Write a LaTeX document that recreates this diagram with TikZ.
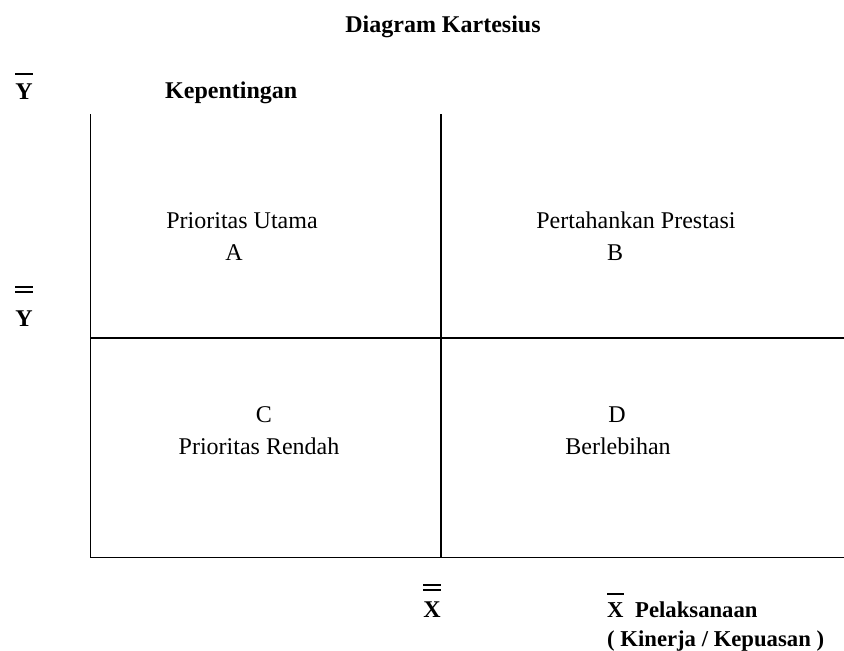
\documentclass[tikz,border=0pt]{standalone}
\usepackage{fontspec}
\setmainfont{Liberation Serif}
\begin{document}
\begin{tikzpicture}[x=1pt,y=-1pt,
  lbl/.style={inner sep=0pt,anchor=base,font=\fontsize{24}{28}\selectfont},
  blbl/.style={lbl,font=\fontsize{24}{28}\selectfont\bfseries},
  sblbl/.style={lbl,font=\fontsize{22.7}{27}\selectfont\bfseries},
  grid/.style={line width=1.3pt,black},
  bar/.style={line width=1.3pt,black}]
\useasboundingbox (0,0) rectangle (844,651);
% title
\node[blbl] (title) at (443,32) {Diagram Kartesius};
\node[blbl,anchor=base west] (kep) at (165,98) {Kepentingan};
% axis labels
\node[blbl] (ybar) at (24,99) {Y};
\draw[bar] ([yshift=9pt]ybar.north west) -- ([yshift=9pt]ybar.north east);
\node[blbl] (ydbar) at (24,326) {Y};
\draw[bar] ([yshift=23pt]ydbar.north west) -- ([yshift=23pt]ydbar.north east);
\draw[bar] ([yshift=18pt]ydbar.north west) -- ([yshift=18pt]ydbar.north east);
\node[blbl] (xdbar) at (432,617) {X};
\draw[bar] ([yshift=16pt]xdbar.north west) -- ([yshift=16pt]xdbar.north east);
\draw[bar] ([yshift=11pt]xdbar.north west) -- ([yshift=11pt]xdbar.north east);
\node[sblbl,anchor=base west] (xbar) at (607,617) {X};
\draw[bar] ([yshift=8pt]xbar.north west) -- ([yshift=8pt]xbar.north east);
\node[sblbl,anchor=base west] (pel) at (635,617) {Pelaksanaan};
\node[sblbl,anchor=base west] (kin) at (607,646) {( Kinerja / Kepuasan )};
% grid
\coordinate (tl) at (90.5,114);
\coordinate (tm) at (441,114);
\coordinate (ml) at (90.5,338);
\coordinate (mr) at (844,338);
\coordinate (bl) at (90.5,557.5);
\coordinate (bm) at (441,557.5);
\coordinate (br) at (844,557.5);
\draw[grid] (tl) -- (bl) -- (br);
\draw[grid] (tm) -- (bm);
\draw[grid] (ml) -- (mr);
% quadrant labels
\node[lbl] (pu) at (242,228) {Prioritas Utama};
\node[lbl] (a) at (234,260) {A};
\node[lbl] (pp) at (636,228) {Pertahankan Prestasi};
\node[lbl] (b) at (615,260) {B};
\node[lbl] (c) at (264,422) {C};
\node[lbl] (pr) at (259,454) {Prioritas Rendah};
\node[lbl] (d) at (617,422) {D};
\node[lbl] (bb) at (618,454) {Berlebihan};
\end{tikzpicture}
\end{document}
